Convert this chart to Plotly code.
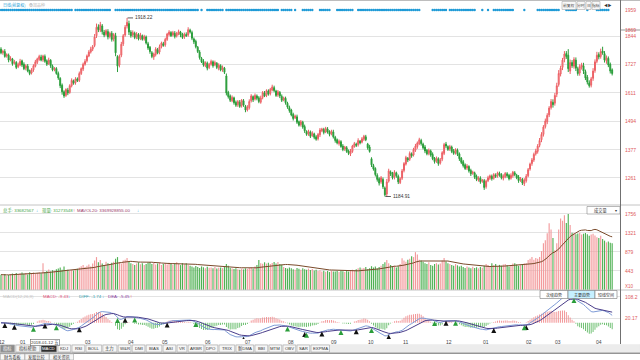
import plotly.graph_objects as go

# ---------------- data ----------------
opens = [1790,1775,1780,1762,1765,1746,1750,1732,1735,1718,
         1725,1742,1728,1712,1720,1702,1692,1705,1720,1736,
         1748,1758,1746,1760,1742,1730,1744,1720,1706,1710,
         1690,1670,1642,1615,1600,1622,1612,1640,1660,1652,
         1668,1662,1690,1708,1728,1742,1762,1778,1790,1805,
         1845,1882,1868,1885,1860,1850,1862,1842,1855,1832,
         1845,1760,1725,1765,1812,1848,1885,1895,1860,1848,
         1855,1840,1850,1835,1845,1832,1840,1812,1798,1775,
         1758,1768,1788,1778,1800,1812,1808,1830,1850,1858,
         1848,1855,1845,1852,1860,1850,1840,1850,1848,1868,
         1858,1832,1822,1798,1778,1752,1740,1722,1732,1715,
         1728,1738,1725,1732,1712,1722,1705,1712,1680,1612,
         1598,1578,1590,1572,1562,1572,1558,1578,1555,1540,
         1550,1578,1595,1585,1598,1590,1572,1592,1610,1600,
         1618,1608,1622,1632,1618,1602,1612,1596,1582,1588,
         1568,1550,1540,1522,1508,1512,1492,1480,1490,1472,
         1452,1442,1450,1435,1442,1430,1422,1438,1455,1460,
         1450,1462,1452,1442,1450,1428,1418,1402,1410,1392,
         1380,1385,1372,1360,1370,1390,1400,1398,1412,1408,
         1420,1430,1400,1388,1340,1312,1300,1272,1258,1245,
         1255,1220,1195,1248,1285,1280,1265,1282,1268,1242,
         1260,1292,1318,1342,1338,1360,1355,1375,1390,1402,
         1415,1400,1388,1375,1362,1372,1358,1342,1330,1340,
         1322,1338,1362,1400,1390,1380,1388,1372,1365,1375,
         1360,1342,1328,1315,1302,1308,1292,1280,1282,1268,
         1252,1260,1248,1250,1225,1250,1260,1268,1260,1272,
         1270,1280,1275,1260,1266,1278,1272,1260,1270,1282,
         1272,1265,1252,1255,1238,1250,1270,1298,1320,1335,
         1360,1370,1395,1418,1440,1472,1492,1520,1550,1572,
         1568,1605,1645,1688,1715,1748,1772,1765,1700,1735,
         1720,1745,1710,1692,1716,1722,1698,1675,1652,1642,
         1670,1702,1740,1768,1760,1782,1772,1742,1752,1728,
         1705]

closes = [1775,1782,1760,1768,1745,1752,1730,1738,1715,1728,
          1740,1725,1710,1722,1700,1690,1705,1722,1738,1750,
          1760,1745,1762,1740,1728,1745,1722,1705,1712,1690,
          1672,1640,1615,1598,1625,1610,1640,1662,1650,1668,
          1660,1690,1710,1728,1740,1762,1778,1790,1800,1840,
          1880,1870,1890,1862,1848,1866,1840,1855,1830,1850,
          1775,1720,1760,1810,1845,1880,1900,1860,1845,1858,
          1838,1852,1832,1848,1830,1842,1815,1795,1780,1760,
          1770,1790,1775,1800,1815,1805,1830,1852,1860,1845,
          1858,1842,1855,1862,1848,1838,1852,1845,1870,1860,
          1835,1820,1800,1780,1755,1738,1725,1735,1712,1728,
          1740,1722,1735,1715,1725,1705,1715,1695,1610,1595,
          1580,1592,1570,1560,1575,1555,1580,1560,1540,1552,
          1575,1598,1582,1600,1588,1575,1590,1612,1598,1620,
          1605,1625,1635,1620,1600,1615,1598,1580,1590,1570,
          1552,1538,1520,1505,1515,1490,1478,1492,1470,1455,
          1440,1452,1432,1445,1428,1420,1440,1458,1462,1448,
          1465,1450,1440,1452,1430,1415,1405,1412,1390,1378,
          1388,1370,1362,1372,1392,1402,1395,1415,1405,1422,
          1432,1418,1385,1370,1315,1298,1275,1255,1240,1262,
          1225,1192,1245,1290,1278,1262,1285,1270,1245,1258,
          1290,1320,1345,1335,1362,1352,1378,1392,1405,1418,
          1402,1385,1372,1360,1375,1355,1340,1328,1342,1320,
          1335,1365,1398,1392,1378,1390,1370,1362,1378,1358,
          1340,1325,1312,1300,1310,1290,1278,1285,1265,1255,
          1262,1245,1252,1222,1248,1262,1270,1258,1275,1268,
          1282,1272,1262,1268,1280,1270,1258,1272,1285,1275,
          1262,1250,1258,1240,1252,1268,1295,1318,1335,1358,
          1372,1392,1415,1440,1470,1495,1518,1548,1575,1562,
          1600,1640,1690,1712,1745,1770,1760,1710,1735,1722,
          1748,1712,1690,1718,1725,1700,1672,1655,1640,1668,
          1700,1738,1765,1758,1780,1775,1745,1755,1725,1700,
          1690]

wick_up = [8,6,10,5,7,9,4,8,6,7, 10,5,8,6,9,4,7,6,8,5, 7,9,5,8,6,10,5,7,4,6,
           8,5,7,6,4,9,6,8,5,7, 6,8,5,7,9,6,8,10,7,12, 15,10,12,8,9,6,10,7,9,6,
           12,5,8,10,7,9,18.22,12,8,9, 7,8,6,9,5,7,6,8,5,7, 6,8,7,9,6,8,7,5,8,6,
           7,9,6,8,5,7,6,9,10,6, 8,6,7,5,8,6,9,5,7,6, 7,6,8,5,7,6,8,5,10,7,
           6,8,5,7,6,9,5,7,6,8, 9,7,5,8,6,7,9,6,8,5, 7,6,9,8,5,7,6,8,5,7,
           6,8,5,7,6,9,5,7,6,8, 5,7,6,8,5,7,6,8,5,7, 6,8,5,7,9,6,5,7,6,8,
           5,7,6,8,5,7,6,9,5,7, 6,8,5,9,6,7,5,8,6,7, 8,6,12,9,7,6,8,5,7,6,
           8,6,7,5,8,6,7,9,6,8, 7,6,8,5,7,6,8,5,7,6, 8,6,7,9,5,7,6,8,5,7,
           6,5,7,6,8,5,7,6,5,7, 6,8,5,7,6,8,5,7,6,8, 5,7,6,8,5,7,6,8,5,7,
           6,8,7,6,8,9,7,6,8,7, 9,8,10,9,8,10,9,8,10,12, 10,12,14,10,9,12,10,25,12,10,
           9,11,8,10,9,12,8,9,10,8, 12,10,14,9,12,18,10,9,8,7, 6]

wick_dn = [6,8,5,7,9,6,8,5,7,6, 5,8,6,9,5,7,6,8,5,7, 6,5,8,6,7,5,9,6,7,5,
           8,10,12,8,6,9,5,7,6,8, 5,7,6,8,6,7,5,6,8,7, 9,10,8,12,9,7,10,8,9,10,
           14,24,10,8,9,7,10,12,8,9, 7,9,6,8,5,7,6,8,9,7, 12,8,6,9,7,5,8,6,7,5,
           6,8,7,5,9,6,8,5,7,6, 8,9,7,6,8,5,7,6,9,7, 6,8,5,7,9,6,8,7,10,8,
           7,6,8,7,9,6,8,7,9,6, 8,7,9,6,8,7,6,8,5,7, 6,8,5,7,6,8,9,7,6,8,
           7,9,6,8,5,7,6,8,7,9, 6,8,7,5,8,6,7,9,6,8, 5,7,8,6,7,9,6,8,5,7,
           8,6,7,9,6,5,7,8,6,5, 7,6,8,5,9,7,8,9,10,8, 9,7.09,8,6,9,7,10,8,9,6,
           7,8,6,9,7,8,6,7,9,6, 8,7,9,6,8,7,6,8,7,9, 6,8,7,9,6,8,7,6,8,7,
           9,7,8,6,8,7,9,6,8,7, 6,8,7,10,8,6,7,8,6,7, 8,6,7,9,6,8,7,6,8,7,
           6,9,7,8,10,8,6,7,9,8, 7,9,8,10,9,8,10,9,8,12, 10,12,9,10,11,12,10,14,12,9,
           10,12,9,11,10,12,9,10,8,9, 10,9,8,10,9,8,10,12,9,10, 8]

volumes = [355,340,372,330,348,362,380,345,392,370, 385,402,378,395,360,412,388,405,372,398,
           410,385,620,415,440,472,430,458,445,480, 495,520,468,540,455,470,438,462,450,478,
           492,520,548,575,530,560,590,545,610,680, 760,640,690,610,580,650,620,600,630,655,
           720,760,640,610,680,700,740,660,620,600, 580,610,640,595,620,575,600,635,645,600,
           625,590,610,640,580,600,620,590,630,605, 585,610,640,600,575,620,595,615,580,560,
           540,520,555,530,510,545,525,500,535,515, 520,505,530,498,515,520,505,530,600,560,
           510,495,485,505,480,470,490,475,500,485, 510,520,495,540,580,690,620,605,640,610,
           630,600,625,645,610,644,600,585,530,510, 495,520,505,480,470,510,490,465,500,480,
           470,495,460,485,450,470,440,455,430,445, 420,438,415,452,430,425,440,418,446,432,
           415,448,425,460,470,455,480,500,520,495, 510,530,480,505,550,520,540,495,530,560,
           600,640,690,620,580,540,560,520,550,600, 736,680,650,700,720,780,760,874,820,700,
           680,650,620,600,640,580,560,600,620,590, 610,680,740,660,620,600,580,560,600,570,
           540,560,530,510,545,520,500,535,510,525, 500,530,515,560,600,580,540,620,570,600,
           550,580,560,590,600,570,545,580,610,620, 590,560,575,600,610,620,690,720,760,700,
           740,720,760,900,1080,1150,1311,1540,1400,1200, 920,1080,1400,1650,1600,1725,1550,1756,1500,1320,
           1310,1290,1305,1320,1280,1300,1315,1290,1250,1280, 1300,1260,1220,1200,1250,1180,1140,1100,1120,1090,
           1080]

month_pos = [0.5, 11.3, 45.6, 68.1, 85.9, 108.4, 129.3, 151.8, 174.3, 193.7,
             212.0, 234.6, 253.9, 276.4, 291.6, 313.1]
month_text = ["12", "01", "03", "04", "05", "06", "07", "08", "09", "10",
              "11", "12", "01", "02", "03", "04"]
price_ticks = [1261, 1377, 1494, 1611, 1727, 1844]
price_extra = [1869, 1959]
vol_ticks = [443, 879, 1321, 1756]
vol_labels = ["443", "879", "1321", "1756"]
macd_ticks = [20.17, 108.2]
info_ranges = [(0, 37), (39, 57), (60, 85), (86, 103), (105, 105), (108, 116),
               (118, 145), (147, 152), (154, 154), (158, 163), (167, 172), (176, 184),
               (187, 219), (226, 233), (235, 248), (252, 252), (255, 255), (258, 268),
               (274, 274), (281, 292), (296, 301), (307, 307), (312, 318)]
buy_idx = [2, 7, 23, 41, 65, 87, 127, 159, 168, 186, 203, 233, 258, 275]
sell_idx = [17, 29, 61, 70, 102, 150, 160, 178, 194, 227, 238, 274, 300]
tabs_row1 = ["指标", "指标帮助", "MACD", "KDJ", "RSI", "BOLL", "主力", "W&R", "DMI", "BIAS",
             "ASI", "VR", "ARBR", "DPO", "TRIX", "新DMA", "BBI", "MTM", "OBV", "SAR", "EXPMA"]
tabs_row2 = ["财务看板", "发股比较", "相关资讯"]
top_buttons = ["前复权", "分时", "日", "指标"]
macd_buttons = ["次级趋势", "主要趋势", "短线空间"]

# ---------------- derived series ----------------
n = len(closes)
idx = list(range(n))
highs = [max(o, c) + w for o, c, w in zip(opens, closes, wick_up)]
lows = [min(o, c) - w for o, c, w in zip(opens, closes, wick_dn)]
is_up = [c >= o for o, c in zip(opens, closes)]


def ema(vals, span):
    k = 2.0 / (span + 1)
    out, prev = [], None
    for v in vals:
        prev = v if prev is None else prev + k * (v - prev)
        out.append(prev)
    return out


e12, e26 = ema(closes, 12), ema(closes, 26)
diff = [a - b for a, b in zip(e12, e26)]
dea = ema(diff, 9)
macd = [2 * (d - e) for d, e in zip(diff, dea)]
mavol = []
for i in idx:
    w = volumes[max(0, i - 19):i + 1]
    mavol.append(sum(w) / len(w))
info_x = [i for a, b in info_ranges for i in range(a, b + 1)]

# ---------------- geometry helpers ----------------
W, H = 640, 360
def X(px): return px / W
def Y(py): return 1 - py / H

RED = "#e05a5a"
UPC = "#ec5f64"
UPF = "#f5a3a5"
DNC = "#2a9d3a"
CJK = "Noto Sans CJK SC"
NUM = "Liberation Sans, Noto Sans CJK SC"

fig = go.Figure()
fig.add_trace(go.Candlestick(
    x=idx, open=opens, high=highs, low=lows, close=closes,
    increasing=dict(line=dict(color=UPC, width=1), fillcolor=UPF),
    decreasing=dict(line=dict(color=DNC, width=1), fillcolor=DNC),
    whiskerwidth=0, xaxis="x", yaxis="y", showlegend=False, hoverinfo="skip"))
fig.add_trace(go.Scatter(
    x=info_x, y=[0.5] * len(info_x), mode="markers",
    marker=dict(size=2.4, color="#1e9ad6"), xaxis="x", yaxis="y4",
    showlegend=False, hoverinfo="skip"))
fig.add_trace(go.Bar(
    x=idx, y=volumes, width=0.6,
    marker=dict(color=["#f39a9c" if u else "#4fb153" for u in is_up], line=dict(width=0)),
    xaxis="x2", yaxis="y2", showlegend=False, hoverinfo="skip"))
fig.add_trace(go.Scatter(
    x=idx, y=mavol, mode="lines", line=dict(color="#7a4a2a", width=1),
    xaxis="x2", yaxis="y2", showlegend=False, hoverinfo="skip"))
fig.add_trace(go.Bar(
    x=idx, y=macd, width=0.45,
    marker=dict(color=["#f08a8c" if m >= 0 else "#5cb860" for m in macd], line=dict(width=0)),
    xaxis="x3", yaxis="y3", showlegend=False, hoverinfo="skip"))
fig.add_trace(go.Scatter(
    x=idx, y=diff, mode="lines", line=dict(color="#7d9ad6", width=1),
    xaxis="x3", yaxis="y3", showlegend=False, hoverinfo="skip"))
fig.add_trace(go.Scatter(
    x=idx, y=dea, mode="lines", line=dict(color="#4a3d8a", width=1),
    xaxis="x3", yaxis="y3", showlegend=False, hoverinfo="skip"))
fig.add_trace(go.Scatter(
    x=buy_idx, y=[diff[i] for i in buy_idx], mode="markers",
    marker=dict(symbol="arrow-up", size=5, color="#111111"),
    xaxis="x3", yaxis="y3", showlegend=False, hoverinfo="skip"))
fig.add_trace(go.Scatter(
    x=sell_idx, y=[diff[i] for i in sell_idx], mode="markers",
    marker=dict(symbol="arrow-up", size=5, color="#2a9d3a"),
    xaxis="x3", yaxis="y3", showlegend=False, hoverinfo="skip"))

xr = [-0.52, 324.1]
xdom = [0, X(620)]
xcommon = dict(domain=xdom, range=xr, showticklabels=False, showgrid=False,
               zeroline=False, showline=False, ticks="", fixedrange=True)
ycommon = dict(side="right", showticklabels=False, zeroline=False, showline=False,
               ticks="", gridcolor="#e3e3e3", gridwidth=1, fixedrange=True)

fig.update_layout(
    width=W, height=H, margin=dict(l=0, r=0, t=0, b=0),
    paper_bgcolor="white", plot_bgcolor="white", showlegend=False,
    xaxis=dict(anchor="y", rangeslider=dict(visible=False), **xcommon),
    xaxis2=dict(anchor="y2", matches="x", **xcommon),
    xaxis3=dict(anchor="y3", matches="x", **xcommon),
    yaxis=dict(domain=[Y(205), Y(8)], range=[1150, 1959], tickvals=price_ticks,
               showgrid=True, **ycommon),
    yaxis2=dict(domain=[Y(290), Y(205)], range=[0, 1963], tickvals=vol_ticks,
                showgrid=True, **ycommon),
    yaxis3=dict(domain=[Y(339), Y(290)], range=[-67.8, 137.5], tickvals=macd_ticks,
                showgrid=True, **ycommon),
    yaxis4=dict(domain=[Y(14), Y(6)], range=[0, 1], visible=False, anchor="x",
                fixedrange=True),
)

shapes = []
def hline(py, x0=0, x1=640, color="#c8c8c8", width=1):
    shapes.append(dict(type="line", xref="paper", yref="paper", x0=X(x0), x1=X(x1),
                       y0=Y(py), y1=Y(py), line=dict(color=color, width=width)))
def rect(x0, y0, x1, y1, fill, line="#a8a8a8"):
    shapes.append(dict(type="rect", xref="paper", yref="paper", x0=X(x0), x1=X(x1),
                       y0=Y(y1), y1=Y(y0), fillcolor=fill, line=dict(color=line, width=0.6)))

hline(0.5, color="#bdbdbd")
hline(205, color="#c4c4c4")
hline(290, color="#c4c4c4")
hline(30, 620, 640, color="#999999")
shapes.append(dict(type="line", xref="paper", yref="paper", x0=X(620.5), x1=X(620.5),
                   y0=Y(344), y1=Y(0), line=dict(color="#707070", width=1)))

ann = []
def txt(px, py, s, color="#333", size=5.0, anchor="left", family=NUM, **kw):
    d = dict(xref="paper", yref="paper", x=X(px), y=Y(py), text=s, showarrow=False,
             xanchor=anchor, yanchor="middle", font=dict(size=size, color=color, family=family))
    d.update(kw)
    ann.append(d)

# header
txt(0.5, 5, "日线(前复权)", color="#2a9fd6", size=4.0, family=CJK)
txt(27, 5, "叠加品种", color="#b5b5b5", size=4.0, family=CJK)
# top-right buttons
bx = 562
for name, wdt in zip(top_buttons, [14, 8, 5, 8]):
    rect(bx, 1.5, bx + wdt, 9.5, "#f8f8f8")
    txt(bx + wdt / 2, 5.5, name, color="#444", size=3.8, anchor="center", family=CJK)
    bx += wdt + 1
txt(bx + 1, 5.5, "◀▶", color="#333", size=3.8, anchor="left")

# price labels
for v in price_ticks + price_extra:
    ann.append(dict(xref="paper", yref="y", x=X(622.5), y=v, text=str(v), showarrow=False,
                    xanchor="left", yanchor="middle", yshift=-1.5 if v == 1959 else 0,
                    font=dict(size=5.0, color=RED, family=NUM)))
# extreme marks
for i, v, s in [(66, highs[66], "1918.22"), (201, lows[201], "1184.91")]:
    ann.append(dict(xref="x", yref="y", x=i, y=v, text=s, showarrow=True, arrowhead=0,
                    arrowwidth=0.8, arrowcolor="#333", ax=6, ay=0, standoff=0.5,
                    xanchor="left", yanchor="middle",
                    font=dict(size=4.8, color="#333", family=NUM)))

# volume header
for px, s, c in [(1, "总手: 33682567", "#47a64a"), (34, "↓", "#3fb3e0"),
                 (40, "现量: 31273548", "#47a64a"), (71, "↑", "#e03030"),
                 (75, "MAVOL20: 3369928855.00", "#9a3a6a"), (135, "↓", "#3fb3e0")]:
    txt(px, 210, s, color=c, size=4.4, family=NUM)
rect(587, 206.5, 620, 214, "#ffffff", line="#888")
txt(600, 210.3, "成交量", color="#333", size=4.2, anchor="center", family=CJK)
txt(616, 210.3, "▾", color="#333", size=4.2, anchor="center")
for v, s in zip(vol_ticks, vol_labels):
    ann.append(dict(xref="paper", yref="y2", x=X(622.5), y=v, text=s, showarrow=False,
                    xanchor="left", yanchor="middle", font=dict(size=5.0, color=RED, family=NUM)))
txt(622.5, 286.5, "X10", color=RED, size=4.6)

# macd header
for px, s, c in [(1, "MACD(12,26,9)", "#c4c4c4"), (41, "MACD: -9.43", "#e0507a"),
                 (66, "↓", "#3fb3e0"), (77, "DIFF: -1.74", "#33a0b0"),
                 (100, "↓", "#3fb3e0"), (106, "DEA: -5.45", "#8a3aa0"), (128, "↑", "#e03030")]:
    txt(px, 296, s, color=c, size=4.4, family=NUM)
bx = 540
for name, wdt in zip(macd_buttons, [28, 27, 22]):
    fill = "#c6f0ff" if name == "主要趋势" else "#ffffff"
    rect(bx, 290.5, bx + wdt, 298.5, fill, line="#777")
    txt(bx + wdt / 2, 294.6, name, color="#333", size=4.0, anchor="center", family=CJK)
    bx += wdt
for v in macd_ticks:
    ann.append(dict(xref="paper", yref="y3", x=X(622.5), y=v, text=str(v), showarrow=False,
                    xanchor="left", yanchor="middle", font=dict(size=5.0, color=RED, family=NUM)))

# month labels
for p, s in zip(month_pos, month_text):
    ann.append(dict(xref="x3", yref="paper", x=p, y=Y(342.3), text=s, showarrow=False,
                    xanchor="center", yanchor="middle",
                    font=dict(size=5.0, color="#444", family=NUM)))
txt(45, 342.5, "2018-01-12 五", color="#333", size=4.3, anchor="center", family=NUM,
    bgcolor="white", bordercolor="#666", borderwidth=0.6, borderpad=0.5)

# tab bars
rect(0, 344.5, 640, 352.5, "#ececec", line="#ececec")
def tab_width(s):
    return sum(5.0 if ord(ch) > 255 else 2.9 for ch in s) + 4
bx = 0.5
for name in tabs_row1:
    wdt = tab_width(name)
    if name == "MACD":
        fill, fc = "#2f2f2f", "#ffffff"
    elif name == "指标":
        fill, fc = "#8c8c8c", "#ffffff"
    else:
        fill, fc = "#f6f6f6", "#333333"
    rect(bx, 345, bx + wdt, 352, fill)
    txt(bx + wdt / 2, 348.6, name, color=fc, size=4.3, anchor="center", family=NUM)
    bx += wdt + 1.3
hline(353.2, color="#666666")
bx = 0.5
for name in tabs_row2:
    wdt = tab_width(name)
    rect(bx, 353.8, bx + wdt, 360, "#f6f6f6")
    txt(bx + wdt / 2, 357.2, name, color="#333", size=4.2, anchor="center", family=CJK)
    bx += wdt + 0.5

fig.update_layout(shapes=shapes, annotations=ann)
fig.write_html("out.html", config={"displayModeBar": False, "staticPlot": True},
               post_script="document.body.style.margin='0';document.body.style.overflow='hidden';")
